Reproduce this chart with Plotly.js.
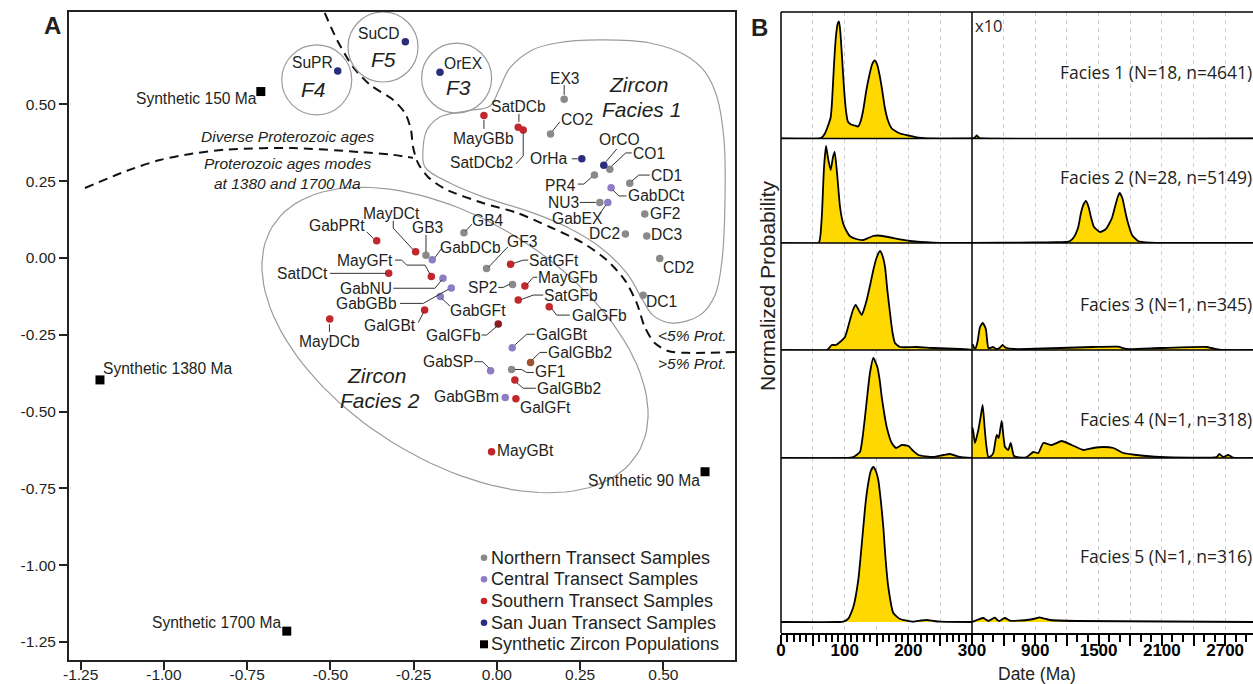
<!DOCTYPE html>
<html><head><meta charset="utf-8">
<script src="https://cdn.plot.ly/plotly-3.0.1.min.js"></script>
<style>html,body{margin:0;padding:0;background:#fff}#chart{width:1253px;height:684px}</style>
</head><body><div id="chart"></div>
<script>
// ================= DATA : panel A (MDS coordinates) =================
const northNames = ['EX3','CO2','CO1','PR4','CD1','NU3','GF2','DC2','DC3','CD2','DC1','GB4','GF3','SP2','GB3','GF1'];
const northX = [0.202,0.161,0.339,0.293,0.399,0.309,0.444,0.386,0.450,0.489,0.439,-0.099,-0.031,0.047,-0.213,0.044];
const northY = [0.517,0.404,0.289,0.270,0.243,0.181,0.143,0.078,0.072,-0.002,-0.121,0.082,-0.034,-0.086,0.009,-0.363];

const centralNames = ['GabDCt','GabEX','GabDCb','GabNU','GabGBb','GabGFt','GabSP','GabGBm','GalGBt'];
const centralX = [0.343,0.333,-0.194,-0.162,-0.137,-0.170,-0.019,0.025,0.046];
const centralY = [0.229,0.181,-0.006,-0.066,-0.098,-0.125,-0.367,-0.454,-0.292];

const southNames = ['SatDCb','SatDCb2','MayGBb','GabPRt','MayDCt','MayGFt','SatDCt','GalGBt','MayDCb','GalGFb','SatGFt','MayGFb','SatGFb','GalGFb','GalGBb2','GalGBb2','GalGFt','MayGBt'];
const southX = [0.064,0.079,-0.039,-0.361,-0.244,-0.197,-0.325,-0.217,-0.502,0.004,0.041,0.084,0.064,0.157,0.101,0.054,0.057,-0.016];
const southY = [0.426,0.417,0.464,0.056,0.020,-0.060,-0.050,-0.169,-0.199,-0.215,-0.020,-0.091,-0.137,-0.159,-0.340,-0.397,-0.458,-0.631];

const sanJuanNames = ['SuPR','SuCD','OrEX','OrHa','OrCO'];
const sanJuanX = [-0.478,-0.275,-0.171,0.255,0.321];
const sanJuanY = [0.609,0.704,0.605,0.323,0.302];

const synthNames = ['Synthetic 150 Ma','Synthetic 1380 Ma','Synthetic 1700 Ma','Synthetic 90 Ma'];
const synthX = [-0.709,-1.192,-0.631,0.625];
const synthY = [0.542,-0.397,-1.215,-0.696];

const aTickX = [-1.25,-1.00,-0.75,-0.50,-0.25,0.00,0.25,0.50];
const aTickXText = ['-1.25','-1.00','-0.75','-0.50','-0.25','0.00','0.25','0.50'];
const aTickY = [0.50,0.25,0.00,-0.25,-0.50,-0.75,-1.00,-1.25];
const aTickYText = ['0.50','0.25','0.00','-0.25','-0.50','-0.75','-1.00','-1.25'];

const legendLabels = ['Northern Transect Samples','Central Transect Samples','Southern Transect Samples','San Juan Transect Samples','Synthetic Zircon Populations'];

// ================= DATA : panel B (probability density, right half x10) =================
const f1LeftAge  = [0,60,64,69,74,78,80,83,86,89,91,93,96,99,102,105,110,116,121,125,129,134,138,143,147,151,155,159,163,168,174,187,200,213,229,300];
const f1LeftProb = [0,0,1,5,13,21,35,71,100,115,117,108,80,50,28,17,14,13,12,17,28,48,61,74,78,74,63,48,31,18,10,5,3,1,0,0];
const f1RightAge  = [300,320,335,345,355,370,400,2964];
const f1RightProb = [0,0.5,2,3,2,0.5,0,0];

const f2LeftAge  = [0,58,60,62,64.4,67.5,70.7,73.8,78,81.7,84.3,88,92.7,97.4,102,108,118,129,137,144.5,152,160,176,203,239,300];
const f2LeftProb = [0,0,1,8,30,75,97,85,73,86,91,70,36,20,13,7,4,3,5,7,7.5,7,5,2,0.3,0];
const f2RightAge  = [300,600,900,1100,1191,1230,1267,1305,1333,1355,1380,1405,1430,1457,1514,1570,1627,1660,1685,1700,1725,1760,1779,1817,1874,1987,2200,2964];
const f2RightProb = [0,0.3,0.6,0.8,1,2,6,15,30,38,42,36,25,16,11,14,25,38,47,50,45,28,20,8,2,0.3,0,0];

const f3LeftAge  = [0,72,74.3,79.6,86.4,92.7,100.5,108.4,113,117.3,122,126.8,130,134.6,140,145,150,155.5,159,163.4,167,171.2,175,179,187,213,239,281,300];
const f3LeftProb = [0,0,1,5,5,8,13,30,40,45,40,35,40,50,65,80,92,99,95,83,60,37,18,7,3,3,2,1,0];
const f3RightAge  = [300,310,320,335,352,376,401,420,433,445,455,470,499,515,534,560,591,610,629,700,819,1134,1447,1684,1767,2082,2525,2572,2632,2700,2964];
const f3RightProb = [4,5,2,2,8,23,27,24,20,8,2,2,3,2,1,2,5,3,2,1,1,2,3,3.3,1,2,3,2,0.7,0,0];

const f4LeftAge  = [0,100,113.6,124,128,131.9,136,139.7,145,151.3,155,158.2,162,166,173.9,180.6,189.6,200,207.8,215.7,239.2,255,265.5,281,300];
const f4LeftProb = [0,0,1,6,20,41,65,85,100,91,78,61,45,31,15,10,13,12,7,3,1,3,4,1,0];
const f4RightAge  = [300,307,328,360,380,401,420,433,455,480,502,534,553,570,582,600,613,644,667,698,750,819,881,929,976,1056,1150,1245,1355,1450,1545,1640,1734,1861,2082,2620,2644,2682,2730,2777,2964];
const f4RightProb = [25,30,15,28,40,53,30,15,1,2,5,23,20,30,37,20,11,8,15,2,0.5,1,6,5,15,13,17,13,8,10,11,10,5,3,1,1,4,1,3,0.3,0];

const f5LeftAge  = [0,90,97.9,105.7,113.6,121.4,125,129.3,133,137.1,141,145,149,152.8,157,160.7,164,168.5,176.4,187,207.8,220,229,240,250,300];
const f5LeftProb = [0,0,0.3,3.3,15,42,65,95,120,139,151,155,151,142,120,95,65,35,9,3,0.3,1.5,2,1,0.3,0];
const f5RightAge  = [300,312,360,407,430,455,490,518,540,559,590,613,640,660,819,900,938,980,1039,1293,2964];
const f5RightProb = [0,0.5,2.5,4,2.5,1,3,4.3,2,1,3,4,2.5,1.3,2,3.5,4.7,3.5,2,1,0];

const faciesLabels = ['Facies 1 (N=18, n=4641)','Facies 2 (N=28, n=5149)','Facies 3 (N=1, n=345)','Facies 4 (N=1, n=318)','Facies 5 (N=1, n=316)'];
const bTickLeft = [0,50,100,150,200,250,300];
const bTickLeftText = ['0','','100','','200','','300'];
const bTickRight = [300,600,900,1200,1500,1800,2100,2400,2700];
const bTickRightText = ['','','900','','1500','','2100','','2700'];

// ================= LAYOUT / STYLE =================
const W = 1253, H = 684;
const PX = v => v / W, PY = v => 1 - v / H;
const ARIAL = 'Liberation Sans, Arial, Helvetica, sans-serif';
const MYRIAD = 'Open Sans, Noto Sans, sans-serif';
const GRAY = '#8a8a8a', PURPLE = '#8f7dc4', RED = '#c1272d', NAVY = '#2b2d7c';
const southShade = {9: '#8a1a1f', 14: '#a0522d'};
const TXT = '#231f20';

// panel A geometry
const A = {x0: 69, x1: 735, y0: 12, y1: 660, xr: [-1.285, 0.715], yr: [-1.309, 0.801]};
const xPer = (A.xr[1] - A.xr[0]) / (A.x1 - A.x0), yPer = (A.yr[1] - A.yr[0]) / (A.y1 - A.y0);
const p2x = p => A.xr[0] + (p - A.x0) * xPer, p2y = p => A.yr[1] - (p - A.y0) * yPer;

// label placement: [anchor, dx, dy(up), leader offsets in px]
const northLab = [
  ['c',0,21,[[0,4.3],[0,14.3]]], ['l',10.3,14,[[2,3],[9.3,12]]], ['l',23,15.3,[[2,3.3],[16,16.3],[22,16.3]]],
  ['r',-18,-10.7,[[-2.7,-2],[-10.7,-9],[-16.7,-9]]], ['l',21.7,8.3,[[2,2.3],[9,8.3],[20,8.3]]], ['r',-21,0,[[-4,0],[-20,0]]],
  ['l',5,0.7,null], ['r',-5.7,0.7,null], ['l',4,1,null], ['l',3.3,-9,null], ['l',3.4,-6.7,null],
  ['l',8,12,[[1.5,1.5],[8,8.7]]], ['l',20.5,26.6,[[2,1.3],[21.3,21.6]]], ['r',-15.4,-3,[[-2.7,0.3],[-9.4,-3],[-14.4,-3]]],
  ['c',1.3,27.6,[[0,3.3],[0,20.3]]], ['l',23.3,-2.4,[[3.3,0],[10,0],[15,-3],[22.3,-3]]]
];
const centralLab = [
  ['l',17,-8.3,[[1.7,-2.3],[7.7,-8.3],[15.4,-8.3]]], ['c',-30.7,-16,[[-2,-2.7],[-7,-9.7]]], ['l',8,12.4,[[2.7,2.4],[9.4,11.4]]],
  ['r',-51.3,-10.3,[[-1.3,-1.7],[-8,-10],[-49.7,-10]]], ['r',-54.6,-15.5,[[-3,-1.3],[-28,-15.3],[-51.3,-15.3]]],
  ['l',9.5,-13.7,[[1.4,-2],[9.7,-9.7]]], ['r',-17.4,9.7,[[-1.4,2.4],[-8,9],[-16.4,9]]], ['r',-6,0.6,null],
  ['l',23.7,13.4,[[2.7,2.7],[14.4,13.4],[22.7,13.4]]]
];
const southLab = [
  ['c',0,20.6,[[0.7,5.3],[0.7,13.3]]], ['r',-10,-32.3,[[0,-2],[0,-26],[-7.3,-34]]], ['c',0,-23.3,[[0,-4.3],[0,-13.3]]],
  ['r',-11.7,15.7,[[-3.4,2.4],[-10,9]]], ['c',-24,38,[[-2.4,2],[-22.4,23.7],[-22.4,31.3]]],
  ['r',-38.6,16.3,[[-1.3,2.3],[-6.3,11.3],[-24.6,11.3],[-29.6,16.3],[-36.3,16.3]]], ['r',-60.4,0,[[-2.7,0],[-58.7,0]]],
  ['r',-8.7,-16,[[-0.7,-1.7],[-6.4,-12.7]]], ['c',-0.7,-22.7,[[-0.3,-5],[-0.3,-12.7]]], ['r',-17.6,-11,[[-1,-2],[-11.6,-11],[-16.6,-11]]],
  ['l',18.6,3.3,[[2.6,0.7],[12.6,4],[17.6,4]]], ['l',13.3,8.7,[[1.7,1],[8.3,8.7],[12.3,8.7]]], ['l',25.7,5,[[3.4,0.7],[15,5],[25,5]]],
  ['l',22.4,-8.3,[[2.4,-1.6],[7.4,-8.3],[20.7,-8.3]]], ['l',17.6,10,[[1.6,2.3],[9.3,10],[16.6,10]]],
  ['l',22.3,-8.3,[[1.7,-2.7],[8.3,-8.3],[21,-8.3]]], ['l',4,-8.6,null], ['l',5,1.7,null]
];
const sanJuanLab = [['c',-25.4,8.7,null], ['c',-26,8.7,null], ['c',23.3,8.3,null], ['r',-14,0,[[-4,0],[-10,0]]], ['c',16,26,[[2,3.3],[13,16.3]]]];
const synthLab = [['r',-4,-7.3,null], ['l',3,11.3,null], ['r',-6,9,null], ['r',-5,-8.3,null]];

// decorative outlines (data units)
const protBoundX = [-0.517,-0.480,-0.432,-0.381,-0.312,-0.276,-0.258,-0.252,-0.237,-0.207,-0.156,-0.042,0.060,0.159,0.258,0.330,0.384,0.420,0.444,0.474,0.514,0.580,0.715];
const protBoundY = [0.798,0.710,0.622,0.564,0.515,0.472,0.417,0.362,0.309,0.264,0.225,0.179,0.147,0.101,0.049,-0.007,-0.072,-0.147,-0.225,-0.277,-0.303,-0.309,-0.306];
const modesX = [-1.237,-1.111,-1.012,-0.913,-0.811,-0.613,-0.411,-0.312,-0.252];
const modesY = [0.228,0.284,0.319,0.340,0.353,0.358,0.345,0.336,0.326];
const f1OutX = [-0.222,-0.210,-0.171,-0.090,-0.021,0.006,0.039,0.108,0.180,0.309,0.459,0.565,0.625,0.661,0.682,0.685,0.676,0.655,0.610,0.526,0.468,0.438,0.390,0.309,0.210,0.108,-0.042,-0.141,-0.216,-0.222];
const f1OutY = [0.352,0.417,0.459,0.479,0.495,0.547,0.619,0.678,0.700,0.710,0.700,0.661,0.606,0.524,0.384,0.189,-0.007,-0.121,-0.186,-0.212,-0.186,-0.137,-0.049,0.036,0.101,0.147,0.199,0.244,0.296,0.352];

const traces = [];
const shapes = [];
const annotations = [];
const dashed = {color: '#111', width: 2, dash: '9px,6px', shape: 'spline', smoothing: 0.8};
traces.push({x: protBoundX, y: protBoundY, xaxis: 'x', yaxis: 'y', mode: 'lines', line: dashed, hoverinfo: 'skip', showlegend: false});
traces.push({x: modesX, y: modesY, xaxis: 'x', yaxis: 'y', mode: 'lines', line: dashed, hoverinfo: 'skip', showlegend: false});
traces.push({x: f1OutX, y: f1OutY, xaxis: 'x', yaxis: 'y', mode: 'lines', line: {color: '#9b9b9b', width: 1.2, shape: 'spline', smoothing: 1}, hoverinfo: 'skip', showlegend: false});
// Facies 2 ellipse outline (pixel geometry -> data)
(function(){
  const cx = 455, cy = 340, a = 215, b = 120, th = 32 * Math.PI / 180;
  const ex = [], ey = [];
  for (let k = 0; k <= 120; k++) {
    const t = 2 * Math.PI * k / 120;
    const X = cx + a * Math.cos(t) * Math.cos(th) - b * Math.sin(t) * Math.sin(th);
    const Y = cy + a * Math.cos(t) * Math.sin(th) + b * Math.sin(t) * Math.cos(th);
    ex.push(p2x(X)); ey.push(p2y(Y));
  }
  traces.push({x: ex, y: ey, xaxis: 'x', yaxis: 'y', mode: 'lines', line: {color: '#9b9b9b', width: 1.2}, hoverinfo: 'skip', showlegend: false});
})();
// small circles F3 F4 F5
[[-0.541,0.580],[-0.342,0.687],[-0.121,0.586]].forEach(c => shapes.push({
  type: 'circle', xref: 'x', yref: 'y', xsizemode: 'pixel', ysizemode: 'pixel', xanchor: c[0], yanchor: c[1],
  x0: -35, x1: 35, y0: -35, y1: 35, line: {color: '#9b9b9b', width: 1.2}}));

// sample markers
traces.push({x: northX, y: northY, text: northNames, xaxis: 'x', yaxis: 'y', mode: 'markers', name: legendLabels[0], marker: {color: GRAY, size: 7.5}, hoverinfo: 'text', showlegend: false});
traces.push({x: centralX, y: centralY, text: centralNames, xaxis: 'x', yaxis: 'y', mode: 'markers', name: legendLabels[1], marker: {color: PURPLE, size: 7.5}, hoverinfo: 'text', showlegend: false});
traces.push({x: southX, y: southY, text: southNames, xaxis: 'x', yaxis: 'y', mode: 'markers', name: legendLabels[2], marker: {color: southNames.map((n, i) => southShade[i] || RED), size: 7.5}, hoverinfo: 'text', showlegend: false});
traces.push({x: sanJuanX, y: sanJuanY, text: sanJuanNames, xaxis: 'x', yaxis: 'y', mode: 'markers', name: legendLabels[3], marker: {color: NAVY, size: 7.5}, hoverinfo: 'text', showlegend: false});
traces.push({x: synthX, y: synthY, text: synthNames, xaxis: 'x', yaxis: 'y', mode: 'markers', name: legendLabels[4], marker: {color: '#000', size: 9, symbol: 'square'}, hoverinfo: 'text', showlegend: false});

const labFont = {family: ARIAL, size: 15.6, color: TXT};
function addLabels(names, xs, ys, labs) {
  names.forEach((n, i) => {
    const L = labs[i];
    annotations.push({x: xs[i], y: ys[i], xref: 'x', yref: 'y', text: n, showarrow: false,
      xanchor: L[0] === 'l' ? 'left' : (L[0] === 'r' ? 'right' : 'center'), yanchor: 'middle',
      xshift: L[1], yshift: L[2], font: labFont, borderpad: 0, borderwidth: 0});
    if (L[3]) shapes.push({type: 'path', xref: 'x', yref: 'y', xsizemode: 'pixel', ysizemode: 'pixel',
      xanchor: xs[i], yanchor: ys[i], path: 'M ' + L[3].map(p => p[0] + ' ' + p[1]).join(' L '),
      line: {color: '#333', width: 1}});
  });
}
addLabels(northNames, northX, northY, northLab);
addLabels(centralNames, centralX, centralY, centralLab);
addLabels(southNames, southX, southY, southLab);
addLabels(sanJuanNames, sanJuanX, sanJuanY, sanJuanLab);
addLabels(synthNames, synthX, synthY, synthLab);

// italic region texts
const it = (t, x, y, s) => annotations.push({x, y, xref: 'x', yref: 'y', text: '<i>' + t + '</i>', showarrow: false, xanchor: 'center', yanchor: 'middle', font: {family: ARIAL, size: s, color: TXT}, borderpad: 0, borderwidth: 0});
it('Zircon', 0.426, 0.564, 21); it('Facies 1', 0.435, 0.485, 21);
it('Zircon', -0.361, -0.384, 21); it('Facies 2', -0.351, -0.463, 21);
it('F4', -0.550, 0.550, 21); it('F5', -0.342, 0.645, 21); it('F3', -0.114, 0.554, 21);
it('Diverse Proterozoic ages', -0.628, 0.397, 15.5);
it('Proterozoic ages modes', -0.628, 0.309, 15.5);
it('at 1380 and 1700 Ma', -0.628, 0.244, 15.5);
it('&lt;5% Prot.', 0.586, -0.251, 15.5);
it('&gt;5% Prot.', 0.586, -0.342, 15.5);

// custom legend (panel A)
const legColors = [GRAY, PURPLE, RED, NAVY, '#000'];
const legRows = [557.7, 579.3, 601, 622.7, 644.3];
legendLabels.forEach((t, i) => {
  const sq = i === 4;
  shapes.push({type: sq ? 'rect' : 'circle', xref: 'paper', yref: 'paper', xsizemode: 'pixel', ysizemode: 'pixel',
    xanchor: PX(484), yanchor: PY(legRows[i]), x0: sq ? -4 : -3.3, x1: sq ? 4 : 3.3, y0: sq ? -4 : -3.3, y1: sq ? 4 : 3.3,
    fillcolor: legColors[i], line: {width: 0}});
  annotations.push({x: PX(491), y: PY(legRows[i]), xref: 'paper', yref: 'paper', text: t, showarrow: false, xanchor: 'left', yanchor: 'middle',
    font: {family: ARIAL, size: 18, color: TXT}, borderpad: 0, borderwidth: 0});
});

// ================= panel B traces =================
const bData = [
  [f1LeftAge, f1LeftProb, f1RightAge, f1RightProb],
  [f2LeftAge, f2LeftProb, f2RightAge, f2RightProb],
  [f3LeftAge, f3LeftProb, f3RightAge, f3RightProb],
  [f4LeftAge, f4LeftProb, f4RightAge, f4RightProb],
  [f5LeftAge, f5LeftProb, f5RightAge, f5RightProb]
];
const rowsPx = [[12, 138.5], [138.5, 243], [243, 350], [350, 458], [458, 633]];
const rowRange = [[0, 126.5], [0, 104.5], [0, 107], [0, 108], [-11, 164]];
const labelY = [72, 177, 304, 419, 556];
const YEL = '#FFD800';
const layoutAxes = {};
bData.forEach((d, r) => {
  const ya = 'y' + (r + 2);
  const common = {mode: 'lines', fill: 'tozeroy', fillcolor: YEL, line: {color: '#000', width: 1.8, shape: 'spline', smoothing: 0.5}, hoverinfo: 'skip', showlegend: false, yaxis: ya};
  traces.push(Object.assign({x: d[0], y: d[1], xaxis: 'x2', name: faciesLabels[r]}, common));
  traces.push(Object.assign({x: d[2], y: d[3], xaxis: 'x3', name: faciesLabels[r] + ' x10'}, common));
  layoutAxes['yaxis' + (r + 2)] = {domain: [PY(rowsPx[r][1]), PY(rowsPx[r][0])], range: rowRange[r], anchor: 'x2',
    showticklabels: false, ticks: '', showgrid: false, zeroline: false, showline: false, fixedrange: true};
  annotations.push({x: PX(1252), y: PY(labelY[r]), xref: 'paper', yref: 'paper', text: faciesLabels[r], showarrow: false,
    xanchor: 'right', yanchor: 'middle', font: {family: MYRIAD, size: 17.5, color: TXT}, borderpad: 0, borderwidth: 0});
});
// B frame
const bl = (x0, y0, x1, y1) => shapes.push({type: 'line', xref: 'paper', yref: 'paper', x0: PX(x0), y0: PY(y0), x1: PX(x1), y1: PY(y1), line: {color: '#000', width: 1.5}});
bl(781, 12, 1253, 12); bl(781, 12, 781, 633); bl(972, 12, 972, 633);
[138.5, 243, 350, 458].forEach(y => bl(781, y, 1253, y));

// other texts
const txt = (t, x, y, f, extra) => annotations.push(Object.assign({x: PX(x), y: PY(y), xref: 'paper', yref: 'paper', text: t, showarrow: false,
  xanchor: 'center', yanchor: 'middle', font: f, borderwidth: 0, borderpad: 0}, extra || {}));
txt('<b>A</b>', 52, 26, {family: ARIAL, size: 24, color: TXT});
txt('<b>B</b>', 760, 27, {family: ARIAL, size: 24, color: TXT});
txt('x10', 975, 25, {family: MYRIAD, size: 16.5, color: TXT}, {xanchor: 'left'});
txt('Normalized Probability', 767, 286, {family: ARIAL, size: 21, color: TXT}, {textangle: -90});
txt('Date (Ma)', 1037, 674, {family: ARIAL, size: 17.5, color: TXT});

const tickA = {family: ARIAL, size: 15.5, color: TXT};
const tickB = {family: ARIAL, size: 17, color: '#000', weight: 'bold'};
const layout = Object.assign({
  width: W, height: H, margin: {l: 0, r: 0, t: 0, b: 0}, paper_bgcolor: '#fff', plot_bgcolor: 'rgba(0,0,0,0)',
  showlegend: false, hovermode: 'closest',
  xaxis: {domain: [PX(A.x0), PX(A.x1)], range: A.xr, anchor: 'y', tickvals: aTickX, ticktext: aTickXText, ticks: 'outside', ticklen: 8, tickwidth: 2, tickcolor: '#222',
    ticklabelstandoff: -9,
    showline: true, mirror: true, linewidth: 2, linecolor: '#222', showgrid: false, zeroline: false, tickfont: tickA, fixedrange: true},
  yaxis: {domain: [PY(A.y1), PY(A.y0)], range: A.yr, anchor: 'x', tickvals: aTickY, ticktext: aTickYText, ticks: 'outside', ticklen: 8, tickwidth: 2, tickcolor: '#222',
    showline: true, mirror: true, linewidth: 2, linecolor: '#222', showgrid: false, zeroline: false, tickfont: tickA, fixedrange: true},
  xaxis2: {domain: [PX(781), PX(972)], range: [0, 300], anchor: 'y6', tickvals: bTickLeft, ticktext: bTickLeftText, ticks: 'outside', ticklen: 11, tickwidth: 2, tickcolor: '#000',
    ticklabelstandoff: -10,
    minor: {dtick: 10, tick0: 0, ticks: 'outside', ticklen: 7, tickwidth: 2, tickcolor: '#000', showgrid: false},
    showgrid: true, gridcolor: '#cfcfcf', griddash: '4px,4px', gridwidth: 1, showline: true, linewidth: 2, linecolor: '#000', zeroline: false, tickfont: tickB, fixedrange: true},
  xaxis3: {domain: [PX(972), 1], range: [300, 2964], anchor: 'y6', tickvals: bTickRight, ticktext: bTickRightText, ticks: 'outside', ticklen: 11, tickwidth: 2, tickcolor: '#000',
    ticklabelstandoff: -10,
    minor: {dtick: 100, tick0: 0, ticks: 'outside', ticklen: 7, tickwidth: 2, tickcolor: '#000', showgrid: false},
    showgrid: true, gridcolor: '#cfcfcf', griddash: '4px,4px', gridwidth: 1, showline: true, linewidth: 2, linecolor: '#000', zeroline: false, tickfont: tickB, fixedrange: true},
  shapes: shapes, annotations: annotations
}, layoutAxes);

Plotly.newPlot('chart', traces, layout, {displayModeBar: false, staticPlot: true});
</script></body></html>
